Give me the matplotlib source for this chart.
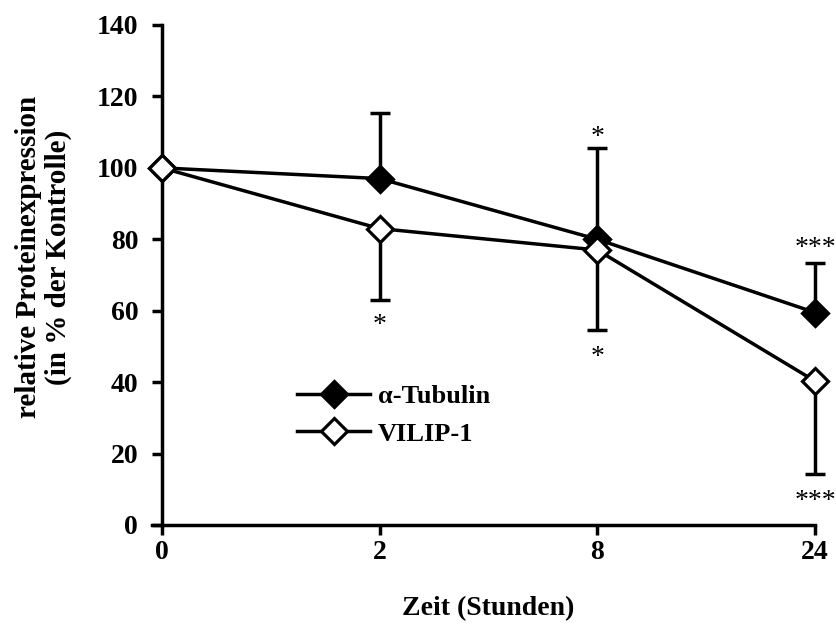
import numpy as np
import matplotlib
matplotlib.use("Agg")
import matplotlib.pyplot as plt

# data
zeit = ["0", "2", "8", "24"]
tubulin = [100, 97, 80, 59.5]
tubulin_err = [0, 18.5, 25.5, 14]
vilip = [100, 83, 77, 40.3]
vilip_err = [0, 20, 22.5, 26]
yticks = [0, 20, 40, 60, 80, 100, 120, 140]

# significance stars: (x index, y, text)
stars = [(2, 108.5, "*"), (1, 55.8, "*"), (2, 47, "*"), (3, 77.5, "***"), (3, 6.5, "***")]

plt.rcParams["font.family"] = ["Liberation Serif", "DejaVu Serif"]
plt.rcParams["font.weight"] = "bold"

fig = plt.figure(figsize=(8.36, 6.31), dpi=100)
ax = fig.add_axes([152 / 836, 1 - 525 / 631, 663 / 836, 500 / 631])

x = np.arange(len(zeit))
lw = 2.5

# error bars: tubulin upwards, vilip downwards
ax.errorbar(x[1:], tubulin[1:], yerr=[np.zeros(3), tubulin_err[1:]], fmt="none",
            ecolor="black", elinewidth=lw, capsize=7, capthick=lw, clip_on=False, zorder=2)
ax.errorbar(x[1:], vilip[1:], yerr=[vilip_err[1:], np.zeros(3)], fmt="none",
            ecolor="black", elinewidth=lw, capsize=7, capthick=lw, clip_on=False, zorder=2)

ax.plot(x, tubulin, color="black", lw=lw, marker="D", ms=13.5, mfc="black",
        mec="black", mew=2.3, label="α-Tubulin", clip_on=False, zorder=4)
ax.plot(x, vilip, color="black", lw=lw, marker="D", ms=13.5, mfc="white",
        mec="black", mew=2.3, label="VILIP-1", clip_on=False, zorder=5)

for xi, yi, s in stars:
    ax.text(xi, yi, s, ha="center", va="center", fontsize=20, fontweight="normal")

ax.set_xlim(-0.045, 3)
ax.set_ylim(0, 140)
ax.set_xticks(x)
ax.set_xticklabels(zeit)
ax.set_yticks(yticks)
ax.tick_params(axis="both", direction="out", length=7, width=2.5, labelsize=20)
ax.tick_params(axis="x", pad=4)
ax.tick_params(axis="y", pad=10)
for lab in ax.get_xticklabels() + ax.get_yticklabels():
    lab.set_fontweight("bold")

for side in ["top", "right"]:
    ax.spines[side].set_visible(False)
for side in ["left", "bottom"]:
    ax.spines[side].set_linewidth(2.5)
ax.spines["left"].set_position(("data", 0))

ax.set_xlabel("Zeit (Stunden)", fontsize=20, fontweight="bold")
ax.xaxis.set_label_coords(0.507, -0.142)
ax.set_ylabel("relative Proteinexpression\n(in % der Kontrolle)", fontsize=21,
              fontweight="bold", linespacing=1.15)
ax.yaxis.set_label_coords(-0.12, 0.536)

leg = ax.legend(loc="center left", bbox_to_anchor=(0.219, 0.22), frameon=False,
                fontsize=19, handlelength=2.77, handletextpad=0.3, labelspacing=0.55,
                borderaxespad=0, borderpad=0)
for t in leg.get_texts():
    t.set_fontweight("bold")

fig.savefig("out.png", dpi=100)
